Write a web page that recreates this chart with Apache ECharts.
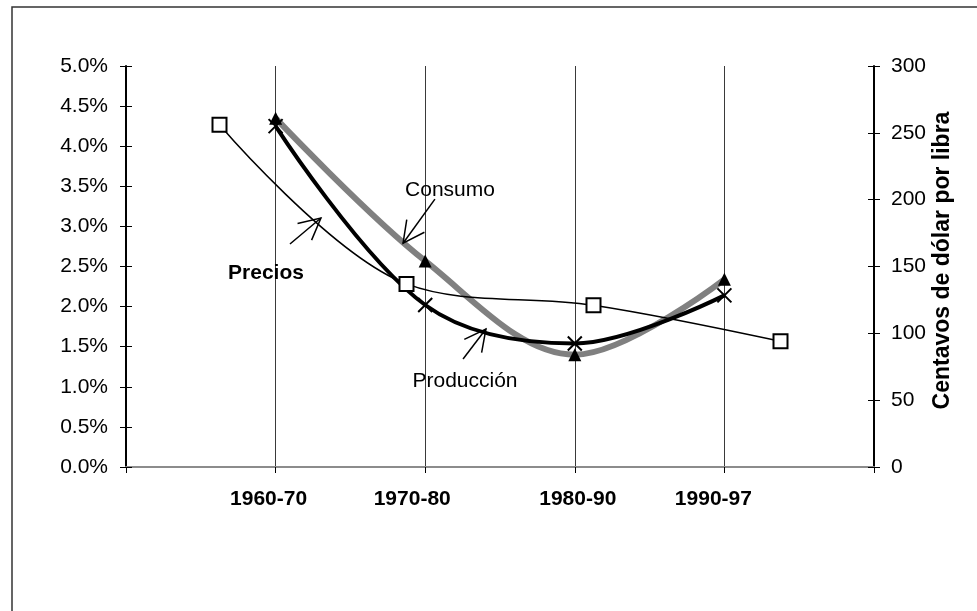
<!DOCTYPE html>
<html>
<head>
<meta charset="utf-8">
<script src="https://cdn.jsdelivr.net/npm/echarts@6/dist/echarts.min.js"></script>
<style>
  html, body { margin: 0; padding: 0; background: #fff; }
  #chart { width: 977px; height: 611px; }
</style>
</head>
<body>
<div id="chart"></div>
<script>
// Periods shown on the category axis
const periods = ['1960-70', '1970-80', '1980-90', '1990-97'];
// Annual growth rates (%), left axis
const produccion = [4.25, 2.02, 1.54, 2.14];
const consumo = [4.35, 2.57, 1.40, 2.34];
// Prices in US cents per pound, right axis (own offset category axis)
const precios = [256, 137, 121, 94];

// Axis ranges
const pctMin = 0, pctMax = 5, pctStep = 0.5;
const centMin = 0, centMax = 300, centStep = 50;

// Callouts: label position and arrow (tail -> head), in [category position, %]
const callouts = [
  { text: 'Consumo', bold: false, at: [2.166, 3.45], tail: [2.065, 3.34], head: [1.852, 2.79] },
  { text: 'Precios', bold: true, at: [0.936, 2.42], tail: [1.096, 2.78], head: [1.303, 3.105] },
  { text: 'Producción', bold: false, at: [2.266, 1.07], tail: [2.253, 1.347], head: [2.406, 1.721] }
];

// Horizontal nudge of each period label (px, negative = left)
const labelShift = [-7, -13, 3, -11];

const FONT = '"Liberation Sans", Arial, sans-serif';
const FS = 21;
const pad = arr => [null].concat(arr, [null]);
const mainCats = [''].concat(periods.map((p, i) => {
  const s = labelShift[i];
  return { value: p, textStyle: { padding: s < 0 ? [0, -2 * s, 0, 0] : [0, 0, 0, 2 * s] } };
}), ['']);

const chart = echarts.init(document.getElementById('chart'), null, { renderer: 'canvas' });

const cross = 'path://M0,0L10,10M10,0L0,10';

const tickAxis = (pos, inside, showLine, labels, name) => ({
  type: 'value', position: pos, min: pos === 'left' ? pctMin : centMin,
  max: pos === 'left' ? pctMax : centMax, interval: pos === 'left' ? pctStep : centStep,
  axisLine: { show: showLine, onZero: false, lineStyle: { color: '#000', width: 2 } },
  axisTick: { show: true, inside: inside, length: 6, lineStyle: { color: '#000', width: 1 } },
  axisLabel: labels,
  splitLine: { show: false },
  name: name || '',
  nameLocation: 'middle', nameRotate: 90, nameGap: 57, nameMoveOverlap: false,
  nameTextStyle: {
    fontFamily: FONT, fontSize: 23, fontWeight: 'bold', color: '#000',
    padding: [0, 0, 0, 12]
  }
});

chart.setOption({
  animation: false,
  backgroundColor: '#fff',
  grid: { left: 126, right: 103, top: 66, bottom: 144, containLabel: false },
  xAxis: [
    {
      type: 'category', data: mainCats, boundaryGap: false, position: 'bottom',
      axisLine: { lineStyle: { color: '#000', width: 2 } },
      axisTick: { show: true, length: 6, lineStyle: { color: '#000' } },
      axisLabel: { interval: 0, margin: 22, fontFamily: FONT, fontSize: FS, fontWeight: 'bold', color: '#000' },
      splitLine: { show: true, lineStyle: { color: '#3a3a3a', width: 1 } }
    },
    {
      type: 'category', data: periods, boundaryGap: true, position: 'top',
      axisLine: { show: true, lineStyle: { color: '#8c8c8c', width: 2 } },
      axisTick: { show: false }, axisLabel: { show: false }, splitLine: { show: false }
    }
  ],
  yAxis: [
    tickAxis('left', false, true, {
      margin: 18, fontFamily: FONT, fontSize: FS, color: '#000',
      formatter: v => v.toFixed(1) + '%'
    }),
    tickAxis('right', false, true, {
      margin: 17, fontFamily: FONT, fontSize: FS, color: '#000'
    }, 'Centavos de dólar por libra'),
    tickAxis('left', true, false, { show: false }),
    tickAxis('right', true, false, { show: false })
  ],
  series: [
    {
      name: 'Consumo', type: 'line', xAxisIndex: 0, yAxisIndex: 0,
      data: pad(consumo), smooth: 0.35, z: 2,
      lineStyle: { color: '#808080', width: 6 },
      symbol: 'triangle', symbolSize: 13,
      itemStyle: { color: '#000' }
    },
    {
      name: 'Producción', type: 'line', xAxisIndex: 0, yAxisIndex: 0,
      data: pad(produccion), smooth: 0.35, z: 3,
      lineStyle: { color: '#000', width: 4 },
      symbol: cross, symbolSize: 14,
      itemStyle: { color: '#000', borderColor: '#000', borderWidth: 2 }
    },
    {
      name: 'Precios', type: 'line', xAxisIndex: 1, yAxisIndex: 1,
      data: precios, smooth: 0.35, z: 4,
      lineStyle: { color: '#000', width: 1.5 },
      symbol: 'rect', symbolSize: 14,
      itemStyle: { color: '#fff', borderColor: '#000', borderWidth: 2 }
    }
  ]
});

// Place callouts through the axes' own scales
const p0 = chart.convertToPixel({ xAxisIndex: 0 }, 0);
const p1 = chart.convertToPixel({ xAxisIndex: 0 }, 1);
const toPx = ([xi, yv]) => [p0 + xi * (p1 - p0), chart.convertToPixel({ yAxisIndex: 0 }, yv)];

const graphics = [{
  type: 'rect', shape: { x: 12, y: 7, width: 1000, height: 700 },
  style: { fill: 'none', stroke: '#333', lineWidth: 1.5 }, z: 100
}];

callouts.forEach(c => {
  const at = toPx(c.at), tail = toPx(c.tail), head = toPx(c.head);
  graphics.push({
    type: 'text', x: at[0], y: at[1], z: 100,
    style: {
      text: c.text, fill: '#000', font: (c.bold ? 'bold ' : '') + FS + 'px ' + FONT,
      textAlign: 'center', textVerticalAlign: 'middle'
    }
  });
  const ang = Math.atan2(tail[1] - head[1], tail[0] - head[0]);
  const L = 24, spread = 27 * Math.PI / 180;
  const w1 = [head[0] + L * Math.cos(ang + spread), head[1] + L * Math.sin(ang + spread)];
  const w2 = [head[0] + L * Math.cos(ang - spread), head[1] + L * Math.sin(ang - spread)];
  graphics.push({
    type: 'polyline', z: 100, shape: { points: [tail, head] },
    style: { stroke: '#000', lineWidth: 1.5, fill: 'none' }
  });
  graphics.push({
    type: 'polyline', z: 100, shape: { points: [w1, head, w2] },
    style: { stroke: '#000', lineWidth: 1.5, fill: 'none' }
  });
});

chart.setOption({ graphic: graphics });
</script>
</body>
</html>
